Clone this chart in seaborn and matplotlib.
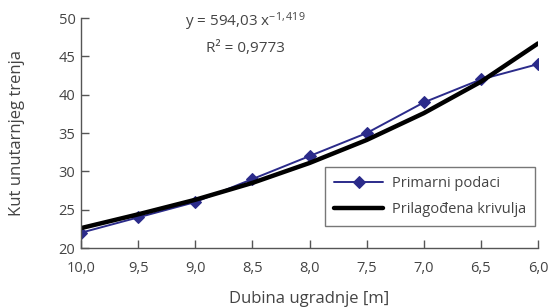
import numpy as np
import pandas as pd
import seaborn as sns
import matplotlib.pyplot as plt

# depth [m] and friction angle
depth = [10.0, 9.5, 9.0, 8.5, 8.0, 7.5, 7.0, 6.5, 6.0]
primary = [22, 24, 26, 29, 32, 35, 39, 42, 44]
fitted = [22.6, 24.4, 26.3, 28.5, 31.1, 34.1, 37.6, 41.7, 46.7]

x_ticks = [10.0, 9.5, 9.0, 8.5, 8.0, 7.5, 7.0, 6.5, 6.0]
y_ticks = [20, 25, 30, 35, 40, 45, 50]

sns.set_theme(style="white")
plt.rcParams['font.family'] = ['Open Sans', 'DejaVu Sans']
plt.rcParams['mathtext.fontset'] = 'custom'
plt.rcParams['mathtext.rm'] = 'Open Sans'
plt.rcParams['mathtext.it'] = 'Open Sans'
plt.rcParams['mathtext.default'] = 'rm'
text_col = '#444444'
axis_col = '#555555'

df = pd.DataFrame({'depth': depth, 'primary': primary, 'fitted': fitted})

fig = plt.figure(figsize=(5.53, 3.07), dpi=100)
ax = fig.add_axes([0.1465, 0.192, 0.8265, 0.749])

sns.lineplot(data=df, x='depth', y='primary', ax=ax, color='#2b2b8a', linewidth=1.4,
             marker='D', markersize=6.5, markeredgecolor='#2b2b8a', label='Primarni podaci')
sns.lineplot(data=df, x='depth', y='fitted', ax=ax, color='black', linewidth=3.2,
             label='Prilagođena krivulja')

ax.set_xlim(10.0, 6.0)
ax.set_ylim(20, 50)
ax.set_xticks(x_ticks)
ax.set_xticklabels([f"{v:.1f}".replace('.', ',') for v in x_ticks])
ax.set_yticks(y_ticks)
ax.tick_params(bottom=True, left=True, direction='in', length=6, width=1, color=axis_col,
               labelcolor=text_col, labelsize=10.5)
ax.tick_params(axis='x', pad=9)
ax.tick_params(axis='y', pad=4)

for s in ['top', 'right']:
    ax.spines[s].set_visible(False)
for s in ['left', 'bottom']:
    ax.spines[s].set_color(axis_col)
    ax.spines[s].set_linewidth(1)

ax.set_xlabel('Dubina ugradnje [m]', color=text_col, fontsize=12, labelpad=11)
ax.set_ylabel('Kut unutarnjeg trenja', color=text_col, fontsize=12, labelpad=24)

ax.text(0.36, 0.985, 'y = 594,03 x$^{-1,419}$', transform=ax.transAxes, ha='center', va='center',
        color=text_col, fontsize=11)
ax.text(0.36, 0.87, 'R² = 0,9773', transform=ax.transAxes, ha='center', va='center',
        color=text_col, fontsize=11)

leg = ax.legend(loc='lower right', bbox_to_anchor=(1.0, 0.085), frameon=True, fancybox=False,
                fontsize=10.5, handlelength=3.4, borderpad=0.6, labelspacing=0.75,
                handletextpad=0.6, borderaxespad=0.2)
leg.get_frame().set_edgecolor(axis_col)
leg.get_frame().set_linewidth(1)
for t in leg.get_texts():
    t.set_color(text_col)

fig.savefig('out.png', dpi=100)
